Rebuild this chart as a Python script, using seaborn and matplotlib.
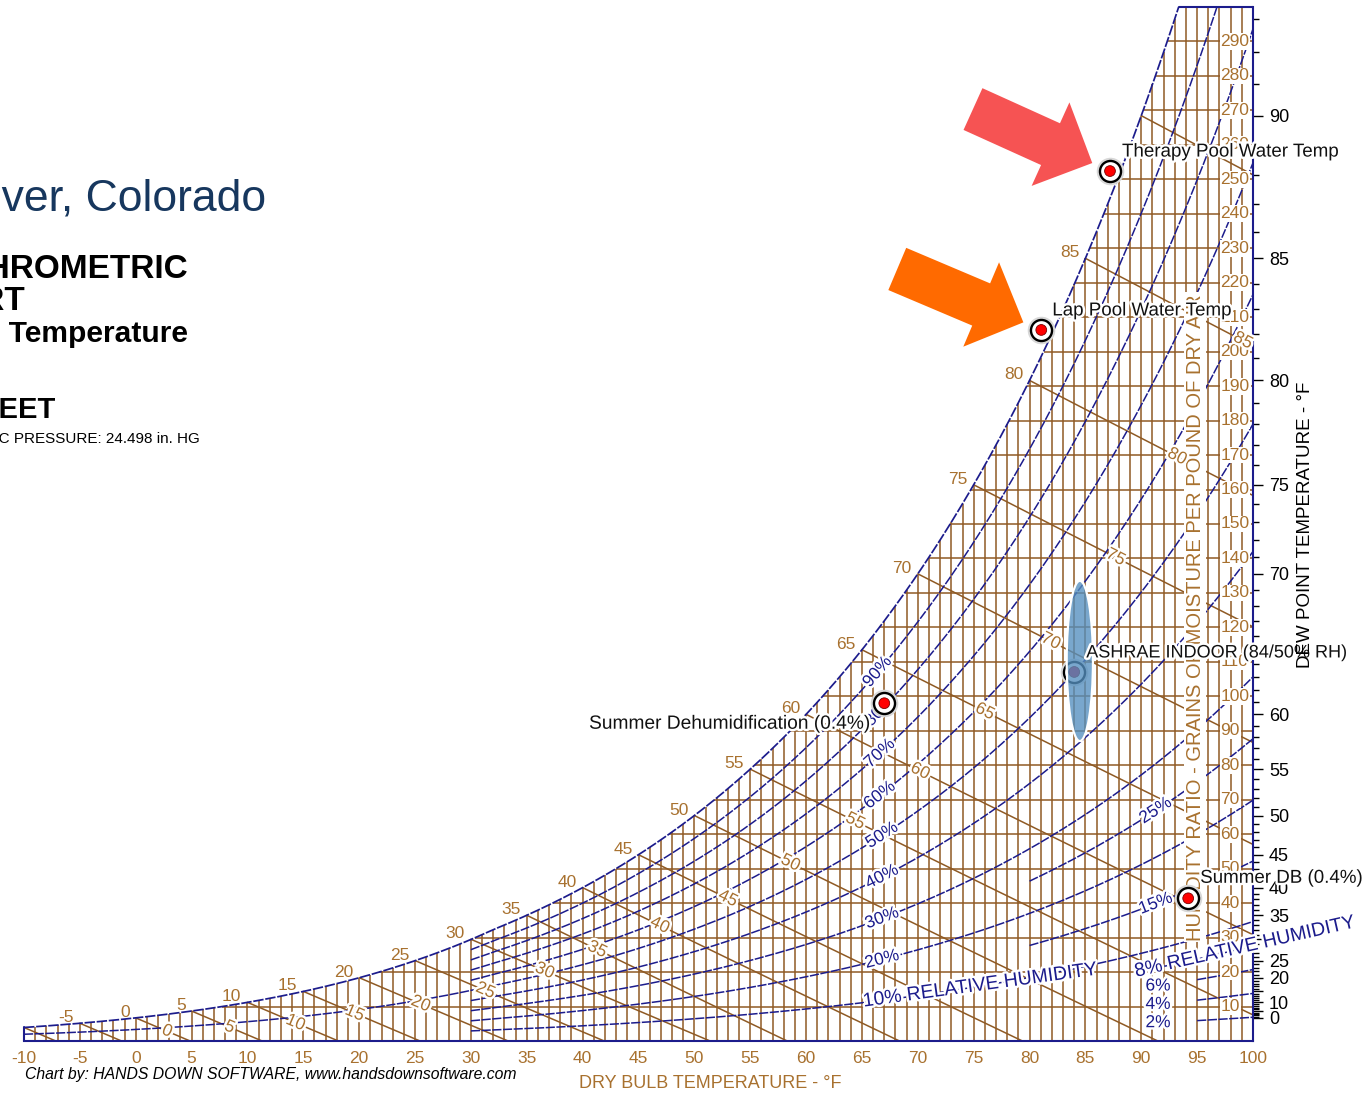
import numpy as np
import pandas as pd
import matplotlib
matplotlib.use("Agg")
import matplotlib.pyplot as plt
import matplotlib.patheffects as pe
from matplotlib.patches import Ellipse
import seaborn as sns

# ---------------------------------------------------------------- chart data
BARO_INHG = 24.498                      # station pressure, Denver (DEN)
DB_MIN, DB_MAX = -10, 100               # dry bulb range, deg F
GRAINS_TOP = 300                        # humidity ratio range, gr/lb

db_tick_values = list(range(-10, 101, 5))
grain_label_values = list(range(10, 291, 10))
dew_tick_values = list(range(0, 94))
dew_label_values = [0, 10, 20, 25, 35, 40, 45, 50, 55, 60, 70, 75, 80, 85, 90]

wet_bulb_values = list(range(-10, 91, 5))
wet_bulb_sat_labels = list(range(-5, 86, 5))
wet_bulb_mid_labels = list(range(0, 86, 5))
wet_bulb_mid_label_db = [2.8, 8.4, 14.3, 19.6, 25.5, 31.3, 36.6, 41.3, 46.9,
                         53.0, 58.6, 64.4, 70.2, 76.0, 81.9, 87.7, 93.2, 99.1]

rh_values = [2, 4, 6, 8, 10, 15, 20, 25, 30, 40, 50, 60, 70, 80, 90]
rh_start_db = [95, 95, 95, 90, 30, 80, 30, 80, 30, 30, -10, 30, 30, 30, 30]
rh_tag_values = [20, 30, 40, 50, 60, 70, 80, 90, 15, 25]
rh_tag_db = [66.8, 66.8, 66.8, 66.8, 66.6, 66.6, 66.6, 66.4, 91.3, 91.3]
rh_flat_tags = [6, 4, 2]
rh_flat_tag_db = 91.5

# plotted states: dry bulb (F) and humidity ratio (gr/lb)
pool_names = ["Therapy Pool Water Temp", "Lap Pool Water Temp"]
pool_db = [87.2, 81.05]
pool_grains = [252.4, 206.3]

design_names = ["Summer Dehumidification (0.4%)", "Summer DB (0.4%)"]
design_db = [67.0, 94.2]
design_grains = [98.0, 41.4]

indoor_name = "ASHRAE INDOOR (84/50% RH)"
indoor_db, indoor_rh = 84.0, 50

# ---------------------------------------------------------------- psychrometrics (I-P)
P_PSIA = BARO_INHG * 0.4911542


def p_sat(t_f):
    T = np.asarray(t_f, dtype=float) + 459.67
    ice = (-1.0214165e4 / T - 4.8932428 - 5.3765794e-3 * T + 1.9202377e-7 * T**2
           + 3.5575832e-10 * T**3 - 9.0344688e-14 * T**4 + 4.1635019 * np.log(T))
    liq = (-1.0440397e4 / T - 1.1294650e1 - 2.7022355e-2 * T + 1.2890360e-5 * T**2
           - 2.4780681e-9 * T**3 + 6.5459673 * np.log(T))
    return np.exp(np.where(T < 491.67, ice, liq))


def grains_pw(pw):
    return 7000.0 * 0.621945 * pw / (P_PSIA - pw)


def grains_rh(t, rh_pct):
    return grains_pw(rh_pct / 100.0 * p_sat(t))


def grains_wb(t, twb):
    t = np.asarray(t, dtype=float)
    ws = grains_pw(p_sat(twb)) / 7000.0
    if twb >= 32:
        w = ((1093 - 0.556 * twb) * ws - 0.240 * (t - twb)) / (1093 + 0.444 * t - twb)
    else:
        w = ((1220 + 0.04 * twb) * ws - 0.240 * (t - twb)) / (1220 + 0.444 * t - 0.48 * twb)
    return 7000.0 * w


t_fine = np.linspace(DB_MIN, DB_MAX, 4000)
sat_fine = grains_rh(t_fine, 100)


def sat_db(gr):
    return np.interp(gr, sat_fine, t_fine)


# ---------------------------------------------------------------- styling
BROWN = "#8f5a24"
BROWN_TXT = "#a8712f"
NAVY = "#1c1c8c"
NAVY_DASH = (6, 1)
W_PX, H_PX = 1370, 1094

sns.set_theme(style="white")
plt.rcParams["font.family"] = ["Liberation Sans", "DejaVu Sans"]
halo = [pe.withStroke(linewidth=3.5, foreground="white")]

fig = plt.figure(figsize=(W_PX / 100, H_PX / 100), dpi=100)
L, R, T, B = 24, 1253, 7, 1041
ax = fig.add_axes([L / W_PX, 1 - B / H_PX, (R - L) / W_PX, (B - T) / H_PX])
ax.set_xlim(DB_MIN, DB_MAX)
ax.set_ylim(0, GRAINS_TOP)
ax.set_facecolor("white")

# dry bulb grid (every 1 F) up to saturation
t_grid = np.arange(DB_MIN + 1, DB_MAX)
ax.vlines(t_grid, 0, np.minimum(grains_rh(t_grid, 100), GRAINS_TOP),
          color=BROWN, lw=1.1, zorder=1)

# humidity ratio grid (every 10 gr) from saturation to the right edge
g_grid = np.arange(10, GRAINS_TOP, 10)
ax.hlines(g_grid, sat_db(g_grid), DB_MAX, color=BROWN, lw=1.1, zorder=1)

# wet bulb lines
wb_rows = []
for twb in wet_bulb_values:
    tt = np.linspace(twb, DB_MAX, 200)
    gg = grains_wb(tt, twb)
    keep = gg >= -2
    wb_rows.append(pd.DataFrame({"db": tt[keep], "gr": gg[keep], "wb": twb}))
wb_df = pd.concat(wb_rows, ignore_index=True)
sns.lineplot(data=wb_df, x="db", y="gr", units="wb", estimator=None, sort=False,
             color=BROWN, linewidth=1.1, ax=ax, legend=False, zorder=1.2)

# relative humidity curves
rh_rows = []
for rh, t0 in zip(rh_values, rh_start_db):
    tt = np.linspace(t0, DB_MAX, 300)
    rh_rows.append(pd.DataFrame({"db": tt, "gr": grains_rh(tt, rh), "rh": rh}))
rh_df = pd.concat(rh_rows, ignore_index=True)
n_before = len(ax.lines)
sns.lineplot(data=rh_df, x="db", y="gr", units="rh", estimator=None, sort=False,
             color=NAVY, linewidth=1.1, ax=ax, legend=False, zorder=2)
for ln in ax.lines[n_before:]:
    ln.set_dashes(NAVY_DASH)

# saturation curve and chart outline
t_top = sat_db(GRAINS_TOP)
ts = np.linspace(DB_MIN, t_top, 600)
sat_df = pd.DataFrame({"db": ts, "gr": grains_rh(ts, 100)})
n_before = len(ax.lines)
sns.lineplot(data=sat_df, x="db", y="gr", estimator=None, sort=False, color=NAVY,
             linewidth=1.25, ax=ax, legend=False, zorder=3, clip_on=False)
for ln in ax.lines[n_before:]:
    ln.set_dashes(NAVY_DASH)
ax.plot([t_top, DB_MAX], [GRAINS_TOP, GRAINS_TOP], color=NAVY, lw=1.5, clip_on=False, zorder=3)
ax.plot([DB_MIN, DB_MIN], [0, grains_rh(DB_MIN, 100)], color=NAVY, lw=1.5, clip_on=False, zorder=3)
for side in ("left", "top"):
    ax.spines[side].set_visible(False)
for side in ("bottom", "right"):
    ax.spines[side].set_color(NAVY)
    ax.spines[side].set_linewidth(1.5)
    ax.spines[side].set_zorder(3)

# humidity ratio labels inside the right edge
for g in grain_label_values:
    ax.text(97.1, g, str(g), ha="left", va="center", fontsize=12.5, color=BROWN_TXT,
            bbox=dict(boxstyle="square,pad=0.05", fc="white", ec="none"), zorder=4)
ax.text(94.82, 122.9, "HUMIDITY RATIO - GRAINS OF MOISTURE PER POUND OF DRY AIR",
        rotation=90, ha="center", va="center", fontsize=14.5, color=BROWN_TXT,
        bbox=dict(boxstyle="square,pad=0.08", fc="white", ec="none"), zorder=4.5)


def screen_angle(x0, fn, dx=0.4):
    p1 = ax.transData.transform((x0 - dx, fn(x0 - dx)))
    p2 = ax.transData.transform((x0 + dx, fn(x0 + dx)))
    return np.degrees(np.arctan2(p2[1] - p1[1], p2[0] - p1[0]))


# wet bulb labels on the saturation curve and along each line
for twb in wet_bulb_sat_labels:
    ax.annotate(str(twb), xy=(twb, float(grains_rh(twb, 100))), xytext=(-6, 1),
                textcoords="offset pixels", ha="right", va="baseline", fontsize=12.5,
                color=BROWN_TXT, zorder=5)
for twb, x0 in zip(wet_bulb_mid_labels, wet_bulb_mid_label_db):
    fn = lambda t, w=twb: float(grains_wb(t, w))
    ax.text(x0, fn(x0), str(twb), rotation=screen_angle(x0, fn), rotation_mode="anchor",
            ha="center", va="center", fontsize=12.5, color=BROWN_TXT,
            path_effects=halo, zorder=5)

# relative humidity labels
for rh, x0 in zip(rh_tag_values, rh_tag_db):
    fn = lambda t, r=rh: float(grains_rh(t, r))
    ax.text(x0, fn(x0), f"{rh}%", rotation=screen_angle(x0, fn), rotation_mode="anchor",
            ha="center", va="center", fontsize=12.5, color=NAVY, path_effects=halo, zorder=5)
for rh in rh_flat_tags:
    ax.text(rh_flat_tag_db, float(grains_rh(rh_flat_tag_db, rh)), f"{rh}%", ha="center",
            va="center", fontsize=12.5, color=NAVY, path_effects=halo, zorder=5)
for rh, x0, txt in [(10, 75.6, "10% RELATIVE HUMIDITY"), (8, 99.3, "8% RELATIVE HUMIDITY")]:
    fn = lambda t, r=rh: float(grains_rh(t, r))
    ax.text(x0, fn(x0), txt, rotation=screen_angle(x0, fn) - 1.5, rotation_mode="anchor",
            ha="center", va="center", fontsize=14, color=NAVY, path_effects=halo,
            zorder=5, clip_on=False)

# ---------------------------------------------------------------- plotted states
indoor_gr = float(grains_rh(indoor_db, indoor_rh))
pts = pd.DataFrame({
    "name": pool_names + [indoor_name] + design_names,
    "db": pool_db + [indoor_db] + design_db,
    "gr": pool_grains + [indoor_gr] + design_grains,
    "dot": ["#ff0000", "#ff0000", "#c0103c", "#ff0000", "#ff0000"],
})
sns.scatterplot(data=pts, x="db", y="gr", s=300, color="white", edgecolor="#d8d8d8",
                linewidth=2.5, ax=ax, zorder=6, legend=False, clip_on=False)
sns.scatterplot(data=pts, x="db", y="gr", s=230, color="white", edgecolor="black",
                linewidth=1.7, ax=ax, zorder=6.1, legend=False, clip_on=False)
sns.scatterplot(data=pts, x="db", y="gr", hue="name", palette=dict(zip(pts["name"], pts["dot"])),
                s=60, edgecolor="#7a0000", linewidth=0.6, ax=ax, zorder=6.2, legend=False,
                clip_on=False)

# design envelope highlight around the indoor condition
ax.add_patch(Ellipse((indoor_db + 0.5, indoor_gr + 3.2), 2.35, 46.5,
                     facecolor=(0.33, 0.56, 0.75, 0.78), edgecolor="white", lw=1.6, zorder=7))

label_offsets = {
    "Therapy Pool Water Temp": ((12, 19), "left", 13.5),
    "Lap Pool Water Temp": ((11, 19), "left", 13.5),
    "ASHRAE INDOOR (84/50% RH)": ((12, 19), "left", 13),
    "Summer Dehumidification (0.4%)": ((-15, -21), "right", 13.8),
    "Summer DB (0.4%)": ((12, 20), "left", 13.5),
}
for _, row in pts.iterrows():
    off, ha, fs = label_offsets[row["name"]]
    ax.annotate(row["name"], xy=(row["db"], row["gr"]), xytext=off, textcoords="offset pixels",
                ha=ha, va="center", fontsize=fs, color="#111111", path_effects=halo,
                zorder=8, annotation_clip=False)

# call-out arrows
for name, color, tail in [("Therapy Pool Water Temp", "#f65353", (-137, 62)),
                          ("Lap Pool Water Temp", "#ff6a00", (-144, 61))]:
    row = pts[pts["name"] == name].iloc[0]
    ax.annotate("", xy=(row["db"], row["gr"]), xytext=tail, textcoords="offset pixels",
                arrowprops=dict(arrowstyle="simple,head_length=33,head_width=66,tail_width=33",
                                mutation_scale=1, color=color, lw=0, shrinkA=0, shrinkB=14),
                zorder=9, annotation_clip=False)

# axes: dry bulb along the bottom, dew point along the right
ax.set_xticks(db_tick_values)
ax.set_xticklabels([str(v) for v in db_tick_values])
ax.tick_params(axis="x", length=0, pad=7, labelsize=12.5, labelcolor=BROWN_TXT)
ax.yaxis.tick_right()
dew_major = np.arange(0, 91, 5)
ax.set_yticks(grains_pw(p_sat(dew_major.astype(float))))
ax.set_yticklabels([str(d) if d in dew_label_values else "" for d in dew_major])
ax.set_yticks(grains_pw(p_sat(np.array(dew_tick_values, float))), minor=True)
ax.tick_params(axis="y", which="major", direction="out", length=7.5, width=1.0,
               color="black", pad=4, labelsize=13, labelcolor="black")
ax.tick_params(axis="y", which="minor", direction="out", length=4, width=1.0, color="black")
ax.grid(False)
ax.set_xlabel("")
ax.set_ylabel("")
ax.set_xlim(DB_MIN, DB_MAX)
ax.set_ylim(0, GRAINS_TOP)


# ---------------------------------------------------------------- page text
def fx(x):
    return x / W_PX


def fy(y):
    return 1 - y / H_PX


fig.text(fx(266), fy(210), "Denver, Colorado", ha="right", va="baseline",
         fontsize=32, color="#17375e")
fig.text(fx(188), fy(278), "PSYCHROMETRIC", ha="right", va="baseline", fontsize=24,
         fontweight="bold", color="black")
fig.text(fx(25), fy(310), "CHART", ha="right", va="baseline", fontsize=24,
         fontweight="bold", color="black")
fig.text(fx(188), fy(342), "Normal Temperature", ha="right", va="baseline", fontsize=21.6,
         fontweight="bold", color="black")
fig.text(fx(55), fy(418), "ELEVATION: 5431 FEET", ha="right", va="baseline", fontsize=21,
         fontweight="bold", color="black")
fig.text(fx(200), fy(443), "BAROMETRIC PRESSURE: 24.498 in. HG", ha="right", va="baseline",
         fontsize=11, color="black")

fig.text(fx(710), fy(1084), "DRY BULB TEMPERATURE - \u00b0F", ha="center", va="center",
         fontsize=13, color=BROWN_TXT)
fig.text(fx(1305), fy(525), "DEW POINT TEMPERATURE - \u00b0F", ha="center", va="center",
         rotation=90, fontsize=13.5, color="black")
fig.text(fx(25), fy(1075), "Chart by: HANDS DOWN SOFTWARE, www.handsdownsoftware.com",
         ha="left", va="center", fontsize=11.3, fontstyle="italic", color="black")

fig.savefig("out.png", dpi=100, facecolor="white")
